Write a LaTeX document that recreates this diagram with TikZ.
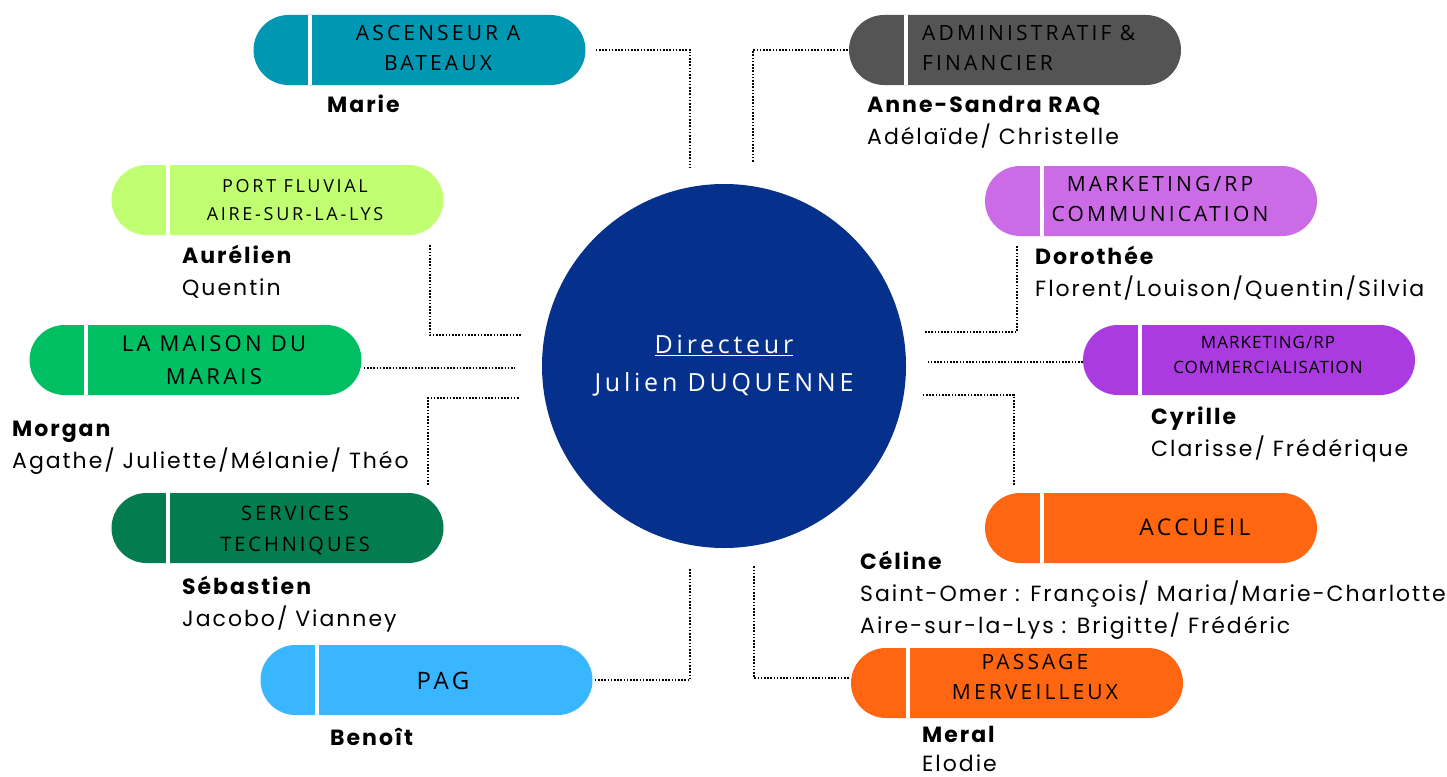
\documentclass[tikz,border=0pt]{standalone}
\usepackage{fontspec}
\setmainfont{Poppins}[LetterSpace=9]
\newfontfamily\pillfont{Open Sans}[LetterSpace=15]
\newfontfamily\pillnarrow{Open Sans}[LetterSpace=6]
\usepackage{tikz}
\usetikzlibrary{positioning}
\pgfdeclarelayer{background}
\pgfsetlayers{background,main}

\definecolor{ascColor}{HTML}{0097B2}
\definecolor{admColor}{HTML}{545454}
\definecolor{portColor}{HTML}{C1FF72}
\definecolor{maisColor}{HTML}{00BF63}
\definecolor{servColor}{HTML}{037C50}
\definecolor{pagColor}{HTML}{38B6FF}
\definecolor{mkcColor}{HTML}{CB6CE6}
\definecolor{mkmColor}{HTML}{AB3BE0}
\definecolor{accColor}{HTML}{FF6611}
\definecolor{dirColor}{HTML}{05318D}

\begin{document}
\begin{tikzpicture}[x=1pt,y=-1pt]

\tikzstyle{pill}=[rounded corners=35pt, minimum width=332pt,
    minimum height=70pt, inner sep=0pt]
\tikzstyle{pilltext}=[font=\pillfont\fontsize{21}{30}\selectfont,
    align=center, inner sep=0pt]
\tikzstyle{boss}=[font=\bfseries\fontsize{22}{32}\selectfont,
    anchor=base west, inner sep=0pt]
\tikzstyle{team}=[font=\fontsize{22}{32}\selectfont,
    anchor=base west, inner sep=0pt]
\tikzstyle{link}=[line width=1.8pt, dash pattern=on 1.6pt off 1.6pt]
\tikzstyle{divider}=[white, line width=4pt]

\useasboundingbox (0,0) rectangle (1447,776);

\node[circle, fill=dirColor, minimum size=364pt, text=white, align=center,
    font=\pillfont\fontsize{25}{38}\selectfont] (dir) at (724,366)
    {\underline{Directeur}\\Julien DUQUENNE};

% services
\node[pill, fill=ascColor] (asc) at (419.5,50) {};
\node[pill, fill=admColor] (adm) at (1015,50) {};
\node[pill, fill=portColor] (port) at (277.5,200) {};
\node[pill, fill=maisColor] (mais) at (195.5,360) {};
\node[pill, fill=servColor] (serv) at (277.5,528) {};
\node[pill, fill=pagColor] (pag) at (426.5,680) {};
\node[pill, fill=mkcColor] (mkc) at (1151,201) {};
\node[pill, fill=mkmColor] (mkm) at (1249,360) {};
\node[pill, fill=accColor] (acc) at (1151,528) {};
\node[pill, fill=accColor] (pas) at (1017,683) {};

\foreach \p in {asc,adm,port,mais,serv,pag,mkc,mkm,acc,pas}
    \draw[divider] ([xshift=57pt]\p.north west) -- ([xshift=57pt]\p.south west);

\node[pilltext] (asc-t) at (438,48) {ASCENSEUR A\\BATEAUX};
\node[pilltext, align=left, anchor=west] (adm-t) at (922,48)
    {ADMINISTRATIF \&\\FINANCIER};
\node[pilltext, font=\pillfont\fontsize{18}{28}\selectfont] (port-t) at (295,200)
    {PORT FLUVIAL\\AIRE-SUR-LA-LYS};
\node[pilltext, font=\pillfont\fontsize{22}{33}\selectfont] (mais-t) at (214,360)
    {LA MAISON DU\\MARAIS};
\node[pilltext, font=\pillfont\fontsize{20}{31}\selectfont] (serv-t) at (295,530)
    {SERVICES\\TECHNIQUES};
\node[pilltext, font=\pillfont\fontsize{24}{30}\selectfont] (pag-t) at (443,681) {PAG};
\node[pilltext] (mkc-t) at (1160,199) {MARKETING/RP\\COMMUNICATION};
\node[pilltext, font=\pillnarrow\fontsize{17}{25}\selectfont] (mkm-t) at (1268,355)
    {MARKETING/RP\\COMMERCIALISATION};
\node[pilltext, font=\pillfont\fontsize{23}{30}\selectfont] (acc-t) at (1195,527) {ACCUEIL};
\node[pilltext] (pas-t) at (1035,677) {PASSAGE\\MERVEILLEUX};

% people
\node[boss] (marie) at (327,112) {Marie};
\node[boss] (anne) at (867,112) {Anne-Sandra RAQ};
\node[team] (anne-t) at ([yshift=-32pt]anne.base west) {Adélaïde/ Christelle};
\node[boss] (aurel) at (182,263) {Aurélien};
\node[team] (aurel-t) at ([yshift=-32pt]aurel.base west) {Quentin};
\node[boss] (morgan) at (12,436) {Morgan};
\node[team] (morgan-t) at ([yshift=-32pt]morgan.base west)
    {Agathe/ Juliette/Mélanie/ Théo};
\node[boss] (seb) at (182,594) {Sébastien};
\node[team] (seb-t) at ([yshift=-32pt]seb.base west) {Jacobo/ Vianney};
\node[boss] (benoit) at (330,745) {Benoît};
\node[boss] (doro) at (1035,264) {Dorothée};
\node[team] (doro-t) at ([yshift=-32pt]doro.base west)
    {Florent/Louison/Quentin/Silvia};
\node[boss] (cyr) at (1151,424) {Cyrille};
\node[team] (cyr-t) at ([yshift=-32pt]cyr.base west) {Clarisse/ Frédérique};
\node[boss] (celine) at (860,569) {Céline};
\node[team] (celine-t) at ([yshift=-32pt]celine.base west)
    {Saint-Omer : François/ Maria/Marie-Charlotte};
\node[team] (celine-u) at ([yshift=-32pt]celine-t.base west)
    {Aire-sur-la-Lys : Brigitte/ Frédéric};
\node[boss] (meral) at (922,742) {Meral};
\node[team] (meral-t) at ([yshift=-29pt]meral.base west) {Elodie};

% links to the director
\coordinate (asc-in) at (690,168);
\coordinate (adm-in) at (753,162);
\coordinate (port-in) at (522,335);
\coordinate (mais-in) at (515,368);
\coordinate (serv-in) at (520,398);
\coordinate (pag-in) at (690,568);
\coordinate (mkc-in) at (925,332);
\coordinate (mkm-in) at (928,362);
\coordinate (acc-in) at (922,395);
\coordinate (pas-in) at (754,565);

\draw[link, shorten <=10pt] (asc.east) -| (asc-in);
\draw[link, shorten <=1pt] (adm.west) -| (adm-in);
\draw[link] ([xshift=-14pt,yshift=-10pt]port.south east) |- (port-in);
\draw[link, shorten <=2pt] ([yshift=-8pt]mais.east) -- (mais-in);
\draw[link] ([xshift=-16pt,yshift=8pt]serv.north east) |- (serv-in);
\draw[link, shorten <=2pt] (pag.east) -| (pag-in);
\draw[link] ([xshift=32pt,yshift=-10pt]mkc.south west) |- (mkc-in);
\draw[link] ([yshift=-2pt]mkm.west) -- (mkm-in);
\draw[link] ([xshift=29pt,yshift=8pt]acc.north west) |- (acc-in);
\draw[link, shorten <=2pt] ([yshift=5pt]pas.west) -| (pas-in);

\begin{pgfonlayer}{background}
    \fill[white] (0,0) rectangle (1447,776);
\end{pgfonlayer}

\end{tikzpicture}
\end{document}
